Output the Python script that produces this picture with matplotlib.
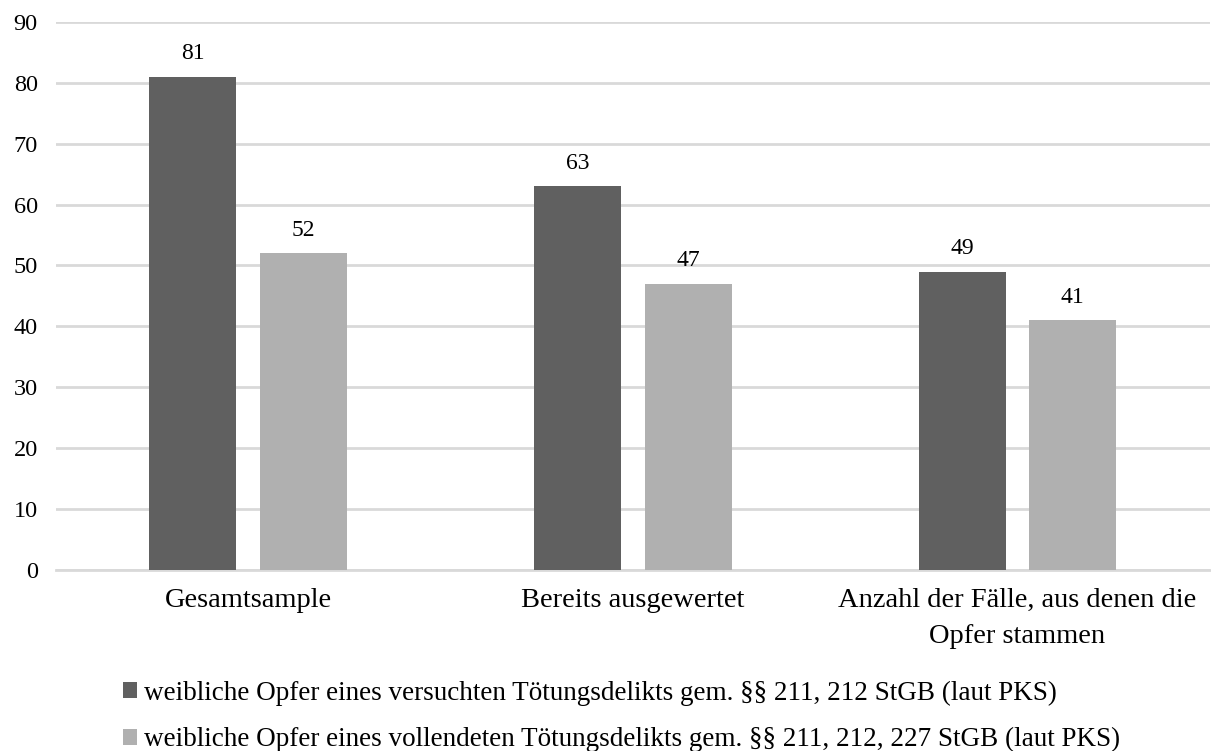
import matplotlib

matplotlib.use("Agg")
import matplotlib.pyplot as plt
import numpy as np

categories = [
    "Gesamtsample",
    "Bereits ausgewertet",
    "Anzahl der Fälle, aus denen die\nOpfer stammen",
]
versucht = [81, 63, 49]
vollendet = [52, 47, 41]
series_labels = [
    "weibliche Opfer eines versuchten Tötungsdelikts gem. §§ 211, 212 StGB (laut PKS)",
    "weibliche Opfer eines vollendeten Tötungsdelikts gem. §§ 211, 212, 227 StGB (laut PKS)",
]
yticks = list(range(0, 91, 10))

plt.rcParams["font.family"] = ["Liberation Serif", "DejaVu Serif"]

fig = plt.figure(figsize=(12.11, 7.51), dpi=100)
ax = fig.add_axes([0.046, 0.241, 0.953, 0.730])

x = np.arange(len(categories))
width = 0.226
offset = 0.144
dark = "#606060"
light = "#b0b0b0"

b1 = ax.bar(x - offset, versucht, width, color=dark, label=series_labels[0], zorder=3)
b2 = ax.bar(x + offset, vollendet, width, color=light, label=series_labels[1], zorder=3)

for bars in (b1, b2):
    for rect in bars:
        h = rect.get_height()
        ax.annotate(f"{h:g}", (rect.get_x() + rect.get_width() / 2, h),
                    xytext=(0, 9), textcoords="offset points",
                    ha="center", va="bottom", fontsize=17)

ax.set_xlim(-0.5, len(categories) - 0.5)
ax.set_ylim(0, 90)
ax.set_yticks(yticks)
ax.set_xticks(x)
ax.set_xticklabels(categories, fontsize=20.5, linespacing=1.6)
ax.tick_params(axis="y", labelsize=17.5, length=0, pad=13)
ax.tick_params(axis="x", length=0, pad=13)
ax.grid(axis="y", color="#d9d9d9", linewidth=2, zorder=0)
for side in ("top", "right", "left"):
    ax.spines[side].set_visible(False)
ax.spines["bottom"].set_color("#d9d9d9")
ax.spines["bottom"].set_linewidth(2)

fig.legend(handles=[b1, b2], loc="upper left", bbox_to_anchor=(0.1016, 0.094),
           frameon=False, fontsize=19.5, handlelength=0.52, handleheight=0.52,
           handletextpad=0.26, labelspacing=0.8, borderpad=0, borderaxespad=0)

fig.savefig("out.png", dpi=100)
